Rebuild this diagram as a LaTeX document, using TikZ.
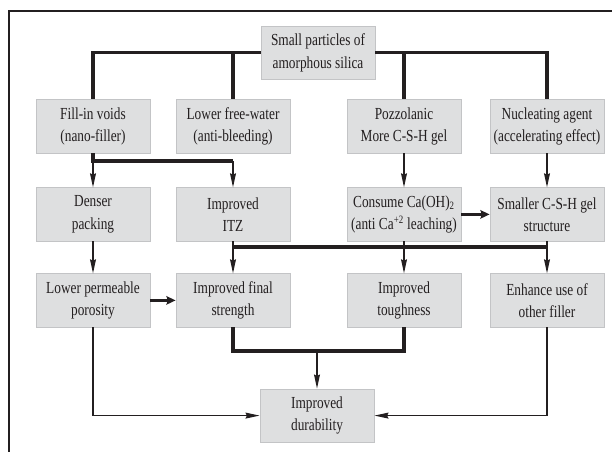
\documentclass[tikz,border=0pt]{standalone}
\usepackage{fontspec}
\setmainfont{Liberation Serif}[FakeStretch=0.79]
\usetikzlibrary{arrows.meta,positioning,calc}
\definecolor{Ink}{HTML}{231F20}
\definecolor{BoxFill}{HTML}{DEDFE0}
\definecolor{BoxLine}{HTML}{C3C4C6}

\begin{document}
\begin{tikzpicture}[x=1cm,y=1cm,
  box/.style={rectangle,fill=BoxFill,draw=BoxLine,line width=0.6pt,minimum width=2.85cm,minimum height=1.33cm,inner sep=1pt,align=center,text=Ink,font=\fontsize{12}{15.8}\selectfont},
  bus/.style={Ink,line width=2.2pt},
  flow/.style={-{Stealth[length=10pt,width=4.2pt,inset=1pt]},Ink,line width=0.95pt},
  fat/.style={-{Stealth[length=6.5pt,width=6pt,inset=1pt]},Ink,line width=2.2pt}]
\useasboundingbox (0,0) rectangle (15.3,11.3);
\draw[Ink,line width=1.4pt] (0.225,0) -- (0.225,11.025) -- (15.3,11.025);
\node[box] (silica) at (7.950,9.980) {Small particles of\\amorphous silica};
\node[box] (fill) at (2.325,8.140) {Fill-in voids\\(nano-filler)};
\node[box] (water) at (5.825,8.140) {Lower free-water\\(anti-bleeding)};
\node[box] (pozz) at (10.100,8.140) {Pozzolanic\\More C-S-H gel};
\node[box] (nucl) at (13.675,8.140) {Nucleating agent\\(accelerating effect)};
\node[box] (dense) at (2.325,5.940) {Denser\\packing};
\node[box] (itz) at (5.825,5.940) {Improved\\ITZ};
\node[box] (consume) at (10.100,5.940) {Consume Ca(OH)\textsubscript{2}\\(anti Ca\textsuperscript{+2} leaching)};
\node[box] (csh) at (13.675,5.940) {Smaller C-S-H gel\\structure};
\node[box] (porosity) at (2.325,3.790) {Lower permeable\\porosity};
\node[box] (strength) at (5.825,3.790) {Improved final\\strength};
\node[box] (tough) at (10.100,3.790) {Improved\\toughness};
\node[box] (filler) at (13.675,3.790) {Enhance use of\\other filler};
\node[box] (durab) at (7.925,0.910) {Improved\\durability};
\coordinate (splitL) at (2.325,7.275);
\coordinate (splitR) at (5.825,7.275);
\coordinate (busL) at (5.825,5.125);
\coordinate (busR) at (13.675,5.125);
\coordinate (joinL) at (5.825,2.525);
\coordinate (joinR) at (10.100,2.525);
\coordinate (joinM) at (7.925,2.525);
\draw[bus] (silica.west) -| (fill.north);
\draw[bus] (silica.west) -| (water.north);
\draw[bus] (silica.east) -| (pozz.north);
\draw[bus] (silica.east) -| (nucl.north);
\draw[bus] (fill.south) -- (splitL) -- (splitR);
\draw[flow] (splitL) -- (dense.north);
\draw[flow] (splitR) -- (itz.north);
\draw[flow] (pozz) -- (consume);
\draw[flow] (nucl) -- (csh);
\draw[fat] (consume) -- (csh);
\draw[bus] (busL) -- (busR);
\draw[flow] (itz) -- (strength);
\draw[flow] (consume) -- (tough);
\draw[flow] (csh) -- (filler);
\draw[flow] (dense) -- (porosity);
\draw[fat] (porosity) -- (strength);
\draw[bus] (strength.south) -- (joinL) -- (joinR) -- (tough.south);
\draw[flow] (joinM) -- (durab.north);
\draw[flow] (porosity.south) |- (durab.west);
\draw[flow] (filler.south) |- (durab.east);
\end{tikzpicture}
\end{document}
